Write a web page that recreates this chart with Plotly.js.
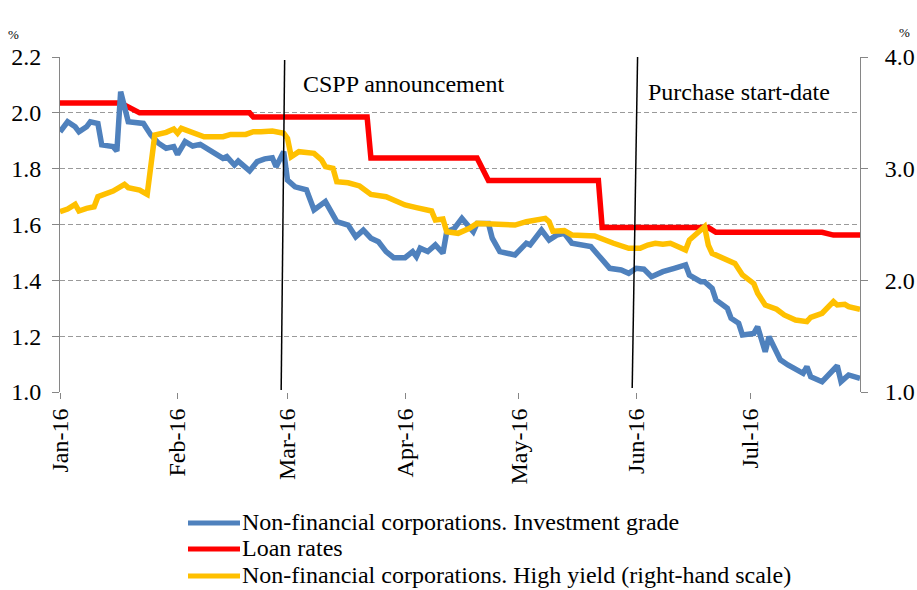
<!DOCTYPE html>
<html>
<head>
<meta charset="utf-8">
<script src="https://cdn.plot.ly/plotly-3.0.1.min.js"></script>
<style>html,body{margin:0;padding:0;background:#fff;}#chart{width:917px;height:590px;}</style>
</head>
<body>
<div id="chart"></div>
<script>
// ---- Data ----
const seriesNames = [
  "Non-financial corporations. Investment grade",
  "Loan rates",
  "Non-financial corporations. High yield (right-hand scale)"
];

const igDates = ["2016-01-01","2016-01-03","2016-01-05","2016-01-06","2016-01-08","2016-01-09","2016-01-11","2016-01-12","2016-01-15","2016-01-16","2016-01-17","2016-01-19","2016-01-23","2016-01-25","2016-01-27","2016-01-29","2016-01-31","2016-02-01","2016-02-03","2016-02-05","2016-02-07","2016-02-10","2016-02-13","2016-02-14","2016-02-16","2016-02-17","2016-02-20","2016-02-22","2016-02-24","2016-02-26","2016-02-27","2016-02-29","2016-03-01","2016-03-03","2016-03-05","2016-03-06","2016-03-08","2016-03-10","2016-03-11","2016-03-14","2016-03-17","2016-03-19","2016-03-21","2016-03-23","2016-03-25","2016-03-27","2016-03-29","2016-04-01","2016-04-03","2016-04-04","2016-04-05","2016-04-07","2016-04-09","2016-04-11","2016-04-12","2016-04-14","2016-04-16","2016-04-19","2016-04-20","2016-04-23","2016-04-24","2016-04-26","2016-04-30","2016-05-03","2016-05-04","2016-05-07","2016-05-09","2016-05-11","2016-05-13","2016-05-15","2016-05-20","2016-05-22","2016-05-25","2016-05-28","2016-05-30","2016-06-01","2016-06-03","2016-06-05","2016-06-08","2016-06-11","2016-06-14","2016-06-15","2016-06-18","2016-06-19","2016-06-21","2016-06-22","2016-06-25","2016-06-26","2016-06-28","2016-06-29","2016-07-02","2016-07-03","2016-07-05","2016-07-06","2016-07-09","2016-07-11","2016-07-15","2016-07-16","2016-07-17","2016-07-20","2016-07-22","2016-07-24","2016-07-25","2016-07-27","2016-07-30"];
const igValues = [1.932,1.968,1.950,1.932,1.950,1.968,1.962,1.885,1.879,1.863,2.076,1.968,1.962,1.920,1.891,1.873,1.879,1.851,1.897,1.881,1.887,1.861,1.837,1.843,1.813,1.827,1.792,1.825,1.835,1.839,1.807,1.861,1.759,1.735,1.730,1.724,1.652,1.670,1.682,1.610,1.598,1.556,1.580,1.551,1.538,1.503,1.481,1.481,1.503,1.485,1.515,1.503,1.527,1.497,1.574,1.586,1.622,1.574,1.604,1.604,1.551,1.503,1.491,1.533,1.527,1.580,1.544,1.562,1.568,1.533,1.521,1.490,1.443,1.437,1.425,1.443,1.440,1.413,1.431,1.443,1.455,1.419,1.395,1.395,1.371,1.330,1.300,1.264,1.246,1.204,1.210,1.234,1.144,1.198,1.115,1.097,1.067,1.091,1.055,1.037,1.067,1.094,1.037,1.061,1.049];

const loanDates = ["2016-01-01","2016-01-17","2016-01-22","2016-02-20","2016-02-21","2016-03-22","2016-03-23","2016-04-20","2016-04-23","2016-05-22","2016-05-23","2016-06-20","2016-06-22","2016-07-20","2016-07-23","2016-07-30"];
const loanValues = [2.035,2.035,2.000,2.000,1.985,1.985,1.838,1.838,1.758,1.758,1.589,1.589,1.572,1.572,1.562,1.562];

const hyDates = ["2016-01-01","2016-01-03","2016-01-05","2016-01-06","2016-01-08","2016-01-10","2016-01-11","2016-01-15","2016-01-18","2016-01-19","2016-01-22","2016-01-24","2016-01-26","2016-01-29","2016-01-31","2016-02-01","2016-02-02","2016-02-05","2016-02-08","2016-02-13","2016-02-15","2016-02-19","2016-02-21","2016-02-23","2016-02-26","2016-02-29","2016-03-01","2016-03-02","2016-03-04","2016-03-08","2016-03-10","2016-03-11","2016-03-13","2016-03-14","2016-03-17","2016-03-20","2016-03-23","2016-03-27","2016-03-29","2016-04-01","2016-04-04","2016-04-08","2016-04-09","2016-04-11","2016-04-12","2016-04-15","2016-04-18","2016-04-20","2016-04-24","2016-04-30","2016-05-03","2016-05-08","2016-05-09","2016-05-10","2016-05-13","2016-05-15","2016-05-21","2016-05-23","2016-05-26","2016-05-30","2016-06-02","2016-06-04","2016-06-06","2016-06-08","2016-06-10","2016-06-14","2016-06-15","2016-06-19","2016-06-20","2016-06-21","2016-06-25","2016-06-27","2016-06-29","2016-07-02","2016-07-03","2016-07-05","2016-07-08","2016-07-10","2016-07-13","2016-07-16","2016-07-17","2016-07-20","2016-07-23","2016-07-24","2016-07-26","2016-07-27","2016-07-30"];
const hyValues = [2.615,2.639,2.681,2.621,2.645,2.659,2.749,2.800,2.860,2.830,2.809,2.770,3.301,3.325,3.355,3.317,3.361,3.325,3.286,3.286,3.307,3.307,3.331,3.331,3.337,3.317,3.272,3.107,3.152,3.137,3.078,3.018,3.003,2.883,2.874,2.845,2.770,2.749,2.719,2.675,2.651,2.621,2.540,2.549,2.435,2.421,2.466,2.510,2.504,2.495,2.525,2.555,2.525,2.440,2.445,2.406,2.397,2.376,2.332,2.287,2.287,2.316,2.332,2.323,2.332,2.272,2.361,2.480,2.316,2.242,2.182,2.152,2.048,1.970,1.884,1.779,1.741,1.690,1.645,1.630,1.669,1.705,1.809,1.779,1.785,1.764,1.741];

const leftTicks = [1.0,1.2,1.4,1.6,1.8,2.0,2.2];
const rightTicks = [1.0,2.0,3.0,4.0];
const eventDates = {cspp: ["2016-02-28 08:00","2016-02-29 06:00"], purchase: ["2016-05-30 22:00","2016-06-01 08:00"]};
const eventLabels = ["CSPP announcement","Purchase start-date"];

const colors = ["#4F81BD","#FF0000","#FFC000"];
const FONT = "Liberation Serif";
const FS = 24;

const traces = [
  {x: loanDates, y: loanValues, name: seriesNames[1], type: "scatter", mode: "lines",
   line: {color: colors[1], width: 5.5}, yaxis: "y", showlegend: false},
  {x: igDates, y: igValues, name: seriesNames[0], type: "scatter", mode: "lines",
   line: {color: colors[0], width: 5.5}, yaxis: "y", showlegend: false},
  {x: hyDates, y: hyValues, name: seriesNames[2], type: "scatter", mode: "lines",
   line: {color: colors[2], width: 5.5}, yaxis: "y2", showlegend: false}
];

// Legend drawn below the plot (pixel positions converted to paper units)
const W = 917, H = 590, mL = 60, mR = 57, mT = 57, mB = 198;
const pw = W - mL - mR, ph = H - mT - mB;
const px = v => (v - mL) / pw;
const py = v => (H - mB - v) / ph;
const legendRows = [522, 548, 575];
const legendOrder = [0, 1, 2];

const shapes = [
  {type: "line", xref: "x", yref: "paper", x0: eventDates.cspp[0], x1: eventDates.cspp[1], y0: py(390), y1: py(60),
   line: {color: "#000", width: 1.5}},
  {type: "line", xref: "x", yref: "paper", x0: eventDates.purchase[0], x1: eventDates.purchase[1], y0: py(388), y1: py(57),
   line: {color: "#000", width: 1.5}}
];
legendOrder.forEach((s, i) => {
  shapes.push({type: "line", xref: "paper", yref: "paper", x0: px(188), x1: px(240), y0: py(legendRows[i] + 1), y1: py(legendRows[i] + 1),
    line: {color: colors[s], width: 5}});
});

const annotations = [
  {xref: "paper", yref: "paper", x: px(301), y: py(84), xanchor: "left", yanchor: "middle", showarrow: false,
   text: eventLabels[0], font: {family: FONT, size: FS, color: "#000"}},
  {xref: "paper", yref: "paper", x: px(646), y: py(92), xanchor: "left", yanchor: "middle", showarrow: false,
   text: eventLabels[1], font: {family: FONT, size: FS, color: "#000"}},
  {xref: "paper", yref: "paper", x: px(13), y: py(34), xanchor: "center", yanchor: "middle", showarrow: false,
   text: "%", font: {family: FONT, size: 13, color: "#000"}},
  {xref: "paper", yref: "paper", x: px(905), y: py(33), xanchor: "center", yanchor: "middle", showarrow: false,
   text: "%", font: {family: FONT, size: 13, color: "#000"}}
];
legendOrder.forEach((s, i) => {
  annotations.push({xref: "paper", yref: "paper", x: px(240), y: py(legendRows[i]), xanchor: "left", yanchor: "middle",
    showarrow: false, text: seriesNames[s], font: {family: FONT, size: FS, color: "#000"}});
});

const layout = {
  width: W, height: H,
  margin: {l: mL, r: mR, t: mT, b: mB, pad: 0},
  paper_bgcolor: "#fff", plot_bgcolor: "#fff",
  font: {family: FONT, size: FS, color: "#000"},
  showlegend: false,
  xaxis: {
    type: "date", range: ["2016-01-01", "2016-07-30"],
    tick0: "2016-01-01", dtick: "M1", tickformat: "%b-%y", tickangle: -90,
    ticks: "outside", ticklen: 6, tickcolor: "#868686", tickwidth: 1,
    showgrid: false, showline: false, zeroline: false,
    tickfont: {family: FONT, size: FS, color: "#000"}
  },
  yaxis: {
    range: [1.0, 2.2], tickmode: "array", tickvals: leftTicks, tickformat: ".1f",
    ticks: "outside", ticklen: 7, tickcolor: "#868686", ticklabelstandoff: 6,
    showgrid: true, gridcolor: "#9a9a9a", gridwidth: 1, griddash: "5px,3px",
    showline: true, linecolor: "#868686", linewidth: 1, zeroline: false,
    tickfont: {family: FONT, size: FS, color: "#000"}
  },
  yaxis2: {
    overlaying: "y", side: "right", range: [1.0, 4.0], tickmode: "array", tickvals: rightTicks, tickformat: ".1f",
    ticks: "outside", ticklen: 7, tickcolor: "#868686", ticklabelstandoff: 12,
    showgrid: false, showline: true, linecolor: "#868686", linewidth: 1, zeroline: false,
    tickfont: {family: FONT, size: FS, color: "#000"}
  },
  shapes: shapes,
  annotations: annotations
};

Plotly.newPlot("chart", traces, layout, {displayModeBar: false, staticPlot: true});
</script>
</body>
</html>
